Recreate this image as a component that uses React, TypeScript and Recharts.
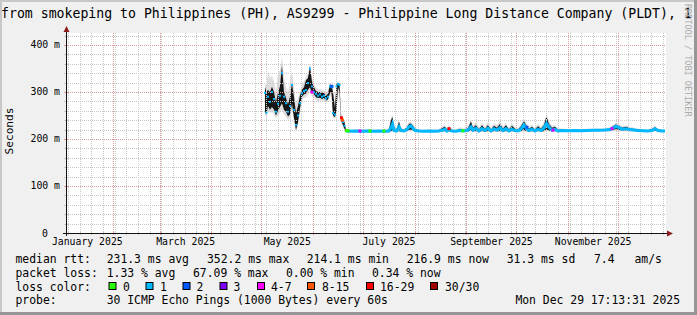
import React from 'react';
import {
  ComposedChart,
  Area,
  Line,
  Scatter,
  XAxis,
  YAxis,
  ReferenceLine,
} from 'recharts';

// x values are days since 2025-01-01, graph covers the last 360 days
const startDay = 2.72;
const endDay = 362.72;

// busy period (May - June): smoke band + median
const burstDays = [
  122.1, 123.0, 123.9, 125.1, 126.3, 127.5, 128.7, 129.9, 131.1, 132.3, 133.5, 134.7,
  135.9, 137.1, 138.3, 139.5, 140.7, 141.9, 143.1, 144.3, 145.5, 146.7, 147.9, 149.1,
  150.3, 151.5, 152.7, 153.9, 155.1, 156.3, 157.5, 158.7, 159.9, 161.1, 162.0, 162.9,
  164.1, 165.0, 165.9, 166.8, 167.7, 168.9, 169.8,
];
const burstMedian = [
  298, 256, 290, 279, 300, 285, 258, 275, 292, 340, 290, 276,
  258, 270, 315, 262, 230, 250, 276, 297, 302, 304, 319, 350,
  312, 300, 296, 292, 295, 290, 292, 286, 290, 312, 310, 255,
  252, 312, 317, 315, 245, 236, 228,
];
const burstDarkLow = [
  258, 252, 270, 262, 268, 262, 250, 260, 268, 276, 262, 258,
  248, 252, 275, 245, 219, 235, 265, 290, 295, 296, 305, 310,
  298, 295, 289, 287, 288, 285, 287, 282, 284, 298, 300, 250,
  246, 260, 310, 300, 240, 229, 222,
];
const burstDarkHigh = [
  310, 300, 304, 300, 311, 300, 278, 298, 312, 357, 300, 288,
  274, 290, 318, 290, 255, 270, 292, 305, 310, 325, 330, 354,
  322, 310, 302, 300, 300, 298, 298, 292, 296, 316, 315, 300,
  266, 317, 319, 318, 250, 242, 236,
];
const burstLightLow = [
  252, 246, 262, 255, 258, 252, 244, 250, 256, 262, 252, 248,
  240, 244, 262, 236, 215, 228, 255, 282, 288, 288, 295, 300,
  290, 288, 283, 280, 282, 280, 282, 278, 279, 292, 294, 245,
  242, 255, 305, 295, 235, 225, 219,
];
const burstLightHigh = [
  318, 312, 346, 330, 335, 322, 300, 340, 345, 375, 330, 310,
  300, 318, 345, 310, 275, 285, 300, 315, 322, 332, 338, 362,
  330, 318, 308, 306, 306, 304, 303, 298, 302, 320, 318, 306,
  272, 320, 322, 320, 256, 246, 240,
];

// settled period (late June - December)
const calmDays = [
  170.7, 173.1, 176.7, 180.3, 183.9, 187.5, 191.1, 194.7, 196.5, 197.7, 198.6, 199.5,
  201.0, 202.5, 203.7, 205.5, 207.3, 208.5, 209.7, 210.9, 212.1, 214.5, 217.5, 220.5,
  223.5, 226.5, 228.9, 230.1, 231.3, 232.5, 234.3, 236.7, 239.1, 241.5, 243.9, 245.7,
  246.9, 248.7, 250.5, 252.3, 254.1, 255.9, 257.7, 259.5, 261.3, 263.1, 264.9, 266.7,
  268.5, 270.3, 272.1, 273.9, 275.7, 277.5, 279.0, 280.5, 282.3, 284.1, 285.9, 287.7,
  289.5, 291.0, 292.5, 294.3, 296.1, 297.9, 300.9, 304.5, 308.1, 311.7, 315.3, 318.9,
  322.5, 326.1, 329.1, 330.9, 332.7, 334.5, 336.3, 338.7, 341.1, 343.5, 345.9, 348.9,
  351.9, 354.3, 356.1, 357.9, 360.3, 362.1,
];
const calmMedian = [
  217.5, 216.5, 217, 216.5, 217, 216.5, 217, 216.5, 217, 224, 232, 218,
  217, 226, 218, 217, 220, 226, 228, 223, 218, 217, 216.5, 217,
  216.5, 217, 219, 221, 217, 220, 217, 216.5, 218, 217, 219, 226,
  219, 223, 217, 222, 218, 223, 217, 222, 219, 224, 218, 222,
  217, 221, 218, 217, 221, 230, 222, 218, 221, 217, 221, 218,
  223, 233, 225, 219, 221, 217, 218, 217.5, 218, 217.5, 218, 218.5,
  218.5, 219, 220, 223, 227, 224, 221, 222, 220, 219, 218, 217.5,
  217, 218, 222, 218, 217, 216.9,
];
const calmDarkLow = [
  216, 215.5, 216, 215.5, 216, 215.5, 216, 215.5, 216, 217, 218, 216,
  216, 217, 216, 216, 217, 219, 220, 218, 216, 216, 215.5, 216,
  215.5, 216, 216.5, 217, 216, 217, 216, 215.5, 216, 216, 216.5, 218,
  216.5, 217, 216, 217, 216, 217, 216, 217, 216.5, 217, 216, 217,
  216, 217, 216, 216, 217, 219, 217, 216, 217, 216, 217, 216,
  217, 220, 218, 216.5, 217, 216, 216.5, 216.5, 216.5, 216.5, 216.5, 217,
  217, 217.5, 218, 219, 221, 219, 218, 218.5, 218, 217, 216.5, 216.5,
  216, 216.5, 217.5, 216.5, 216, 216,
];
const calmDarkHigh = [
  219, 218, 218.5, 218, 218.5, 218, 218.5, 218, 220, 240, 247, 225,
  219, 237, 221, 219, 225, 232, 233, 228, 221, 219, 218, 218.5,
  218, 219, 224, 226, 220, 225, 219, 218, 221, 219, 223, 237,
  224, 230, 220, 229, 221, 230, 220, 228, 224, 232, 222, 229,
  220, 228, 222, 220, 227, 238, 228, 222, 226, 220, 227, 222,
  230, 248, 232, 224, 226, 220, 220, 219, 219.5, 219, 219.5, 220,
  220, 220.5, 222, 227, 231, 228, 224, 226, 223, 221, 220, 219,
  218.5, 221, 225, 220, 218.5, 218,
];
const calmLightLow = [
  215, 214.5, 215, 214.5, 215, 214.5, 215, 214.5, 215, 215, 216, 215,
  215, 215, 215, 215, 215, 216, 217, 216, 215, 215, 214.5, 215,
  214.5, 215, 215, 215, 215, 215, 215, 214.5, 215, 215, 215, 216,
  215, 215, 215, 215, 215, 215, 215, 215, 215, 215, 215, 215,
  215, 215, 215, 215, 215, 216, 215, 215, 215, 215, 215, 215,
  215, 217, 216, 215, 215, 215, 215, 215, 215, 215, 215, 215.5,
  215.5, 216, 216, 217, 218, 217, 216, 216.5, 216, 215.5, 215, 215,
  215, 215, 216, 215, 215, 215,
];
const calmLightHigh = [
  222, 219.5, 220, 220, 220, 219.5, 220, 219.5, 224, 245, 252, 230,
  222, 240, 224, 221, 228, 236, 236, 232, 224, 220, 219.5, 220,
  220, 221, 228, 230, 223, 228, 222, 220, 225, 222, 228, 242,
  228, 236, 225, 234, 226, 236, 224, 233, 230, 238, 227, 234,
  224, 233, 226, 223, 232, 243, 234, 226, 230, 223, 232, 226,
  236, 253, 238, 228, 230, 223, 222, 221, 221.5, 221, 222, 222,
  222.5, 223, 225, 230, 234, 231, 227, 229, 226, 224, 222, 221,
  220, 224, 228, 222, 220, 219.5,
];

// single samples drawn in another loss colour
const lossDays = [150.3, 162.3, 168.0, 168.6, 171.0, 171.9, 179.1, 185.1, 193.5, 232.5, 240.9, 279.3, 294.9, 330.3];
const lossMs = [300, 312, 245, 240, 217.5, 217.5, 217, 217, 217, 222, 217.5, 225, 219, 222];
const lossColors = [
  '#dd00ff', '#0059ff', '#ff0000', '#ff5500', '#26ff00', '#26ff00', '#dd00ff',
  '#26ff00', '#26ff00', '#ff0000', '#26ff00', '#0059ff', '#dd00ff', '#dd00ff',
];

// axes and grid
const msTicks = [0, 100, 200, 300, 400];
const msMinorGrid = [20, 40, 60, 80, 120, 140, 160, 180, 220, 240, 260, 280, 320, 340, 360, 380, 420];
const msMajorGrid = [100, 200, 300, 400];
const monthLabelDays = [15.5, 74.5, 135.5, 196.5, 258, 319];
const monthLabels = ['January 2025', 'March 2025', 'May 2025', 'July 2025', 'September 2025', 'November 2025'];
const monthStartDays = [31, 59, 90, 120, 151, 181, 212, 243, 273, 304, 334];
const weekDays = [
  4, 11, 18, 25, 32, 39, 46, 53, 60, 67, 74, 81, 88, 95, 102, 109, 116, 123, 130, 137,
  144, 151, 158, 165, 172, 179, 186, 193, 200, 207, 214, 221, 228, 235, 242, 249, 256,
  263, 270, 277, 284, 291, 298, 305, 312, 319, 326, 333, 340, 347, 354, 361,
];

const lossLegend = [
  { label: '0', color: '#26ff00', box: 108.5, text: 123 },
  { label: '1', color: '#00b8ff', box: 145.5, text: 160 },
  { label: '2', color: '#0059ff', box: 182.5, text: 196.5 },
  { label: '3', color: '#7e00ff', box: 219.5, text: 233.5 },
  { label: '4-7', color: '#ff00ff', box: 257, text: 271 },
  { label: '8-15', color: '#ff5500', box: 307, text: 322 },
  { label: '16-29', color: '#ff0000', box: 366, text: 380 },
  { label: '30/30', color: '#a10000', box: 430, text: 445 },
];

const burstRows = burstDays.map((day, i) => ({
  day,
  dark: [burstDarkLow[i], burstDarkHigh[i]],
  light: [burstLightLow[i], burstLightHigh[i]],
  dot: burstMedian[i],
}));
const calmRows = calmDays.map((day, i) => ({
  day,
  dark: [calmDarkLow[i], calmDarkHigh[i]],
  light: [calmLightLow[i], calmLightHigh[i]],
  median: calmMedian[i],
}));
const rows = [...burstRows, ...calmRows];
const lossRows = lossDays.map((day, i) => ({ day, ms: lossMs[i], color: lossColors[i] }));

const mono = "'DejaVu Sans Mono', monospace";
const minorColor = '#c8c8c8';
const majorColor = '#dc9c9c';

const crisp = (v: number) => Math.round(v) + 0.5;

const vGrid = (color: string) => (p: any) => {
  const x = crisp(p.x1);
  const top = Math.min(p.y1, p.y2);
  const bottom = Math.max(p.y1, p.y2);
  return (
    <g>
      <line x1={x} x2={x} y1={top} y2={bottom} stroke={color} strokeDasharray="1 1" />
      <line x1={x} x2={x} y1={bottom - 2} y2={bottom + 2} stroke={color} />
    </g>
  );
};

const hGrid = (color: string) => (p: any) => {
  const y = crisp(p.y1);
  const left = Math.min(p.x1, p.x2);
  const right = Math.max(p.x1, p.x2);
  return (
    <g>
      <line x1={left} x2={right} y1={y} y2={y} stroke={color} strokeDasharray="1 1" />
      <line x1={left - 2} x2={left + 2} y1={y} y2={y} stroke={color} />
    </g>
  );
};

const xAxisLine = (p: any) => {
  const y = crisp(p.y1);
  const left = Math.min(p.x1, p.x2);
  const right = Math.max(p.x1, p.x2);
  return (
    <g>
      <line x1={left - 3} x2={right + 2} y1={y} y2={y} stroke="#111" />
      <polygon points={`${right + 1},${y - 3} ${right + 7},${y} ${right + 1},${y + 3}`} fill="#8c1d1d" />
    </g>
  );
};

const yAxisLine = (p: any) => {
  const x = crisp(p.x1);
  const top = Math.min(p.y1, p.y2);
  const bottom = Math.max(p.y1, p.y2);
  return (
    <g>
      <line x1={x} x2={x} y1={top - 2} y2={bottom + 3} stroke="#111" />
      <polygon points={`${x - 3},${top - 1} ${x},${top - 7} ${x + 3},${top - 1}`} fill="#8c1d1d" />
    </g>
  );
};

const medianDot = (p: any) => (
  <rect x={p.cx - 1} y={p.cy - 1} width={2} height={2} fill="#00b8ff" />
);
const lossDot = (p: any) => (
  <rect x={p.cx - 1.5} y={p.cy - 1.5} width={3} height={3} fill={p.payload.color} />
);

const MonthTick = (props: any) => {
  const idx = monthLabelDays.indexOf(props.payload.value);
  return (
    <text x={props.x} y={245} textAnchor="middle" fontFamily={mono} fontSize={9.8} fill="#000">
      {monthLabels[idx]}
    </text>
  );
};

const MsTick = (props: any) => {
  const v = props.payload.value;
  return (
    <text x={v === 0 ? 48 : 60} y={props.y + 3.5} textAnchor="end" fontFamily={mono} fontSize={9.8} fill="#000">
      {v === 0 ? '0' : `${v} m`}
    </text>
  );
};

function Overlay() {
  const rowsY = [262.5, 276.5, 290.5, 304];
  const t = { fontFamily: mono, fontSize: 11.4, fill: '#000' } as const;
  return (
    <svg width={697} height={315} style={{ position: 'absolute', left: 0, top: 0, pointerEvents: 'none' }}>
      <rect x={0} y={0} width={697} height={2} fill="#c8c8c8" />
      <rect x={0} y={0} width={2} height={315} fill="#c8c8c8" />
      <rect x={694} y={0} width={3} height={315} fill="#969696" />
      <rect x={0} y={312} width={697} height={3} fill="#969696" />

      <text x={1} y={18.3} fontFamily={mono} fontSize={13.2} fill="#000">
        from smokeping to Philippines (PH), AS9299 - Philippine Long Distance Company (PLDT), 1
      </text>
      <text transform="translate(685,4) rotate(90)" fontFamily={mono} fontSize={8.5} fill="#ababab">
        RRDTOOL / TOBI OETIKER
      </text>
      <text transform="translate(13,131) rotate(-90)" textAnchor="middle" fontFamily={mono} fontSize={11.2} fill="#000">
        Seconds
      </text>

      <text x={15.5} y={rowsY[0]} {...t}>median rtt:</text>
      <text x={106.7} y={rowsY[0]} {...t}>231.3 ms avg</text>
      <text x={207} y={rowsY[0]} {...t}>352.2 ms max</text>
      <text x={306.7} y={rowsY[0]} {...t}>214.1 ms min</text>
      <text x={406.7} y={rowsY[0]} {...t}>216.9 ms now</text>
      <text x={506.7} y={rowsY[0]} {...t}>31.3 ms sd</text>
      <text x={594} y={rowsY[0]} {...t}>7.4</text>
      <text x={634.5} y={rowsY[0]} {...t}>am/s</text>

      <text x={15.5} y={rowsY[1]} {...t}>packet loss:</text>
      <text x={106.7} y={rowsY[1]} {...t}>1.33 % avg</text>
      <text x={193} y={rowsY[1]} {...t}>67.09 % max</text>
      <text x={286} y={rowsY[1]} {...t}>0.00 % min</text>
      <text x={372} y={rowsY[1]} {...t}>0.34 % now</text>

      <text x={15.5} y={rowsY[2]} {...t}>loss color:</text>
      {lossLegend.map((item) => (
        <g key={item.label}>
          <rect x={item.box + 0.5} y={282.5} width={7} height={7} fill={item.color} stroke="#000" />
          <text x={item.text} y={rowsY[2]} {...t}>{item.label}</text>
        </g>
      ))}

      <text x={15.5} y={rowsY[3]} {...t}>probe:</text>
      <text x={106.7} y={rowsY[3]} {...t}>30 ICMP Echo Pings (1000 Bytes) every 60s</text>
      <text x={680} y={rowsY[3]} textAnchor="end" {...t}>Mon Dec 29 17:13:31 2025</text>
    </svg>
  );
}

export default function App() {
  return (
    <div style={{ position: 'absolute', left: 0, top: 0, width: 697, height: 315, background: '#f0f0f0', overflow: 'hidden' }}>
      <div style={{ position: 'absolute', left: 66, top: 33, width: 600, height: 200, background: '#fff' }} />
      <div style={{ position: 'absolute', left: 0, top: 0 }}>
        <ComposedChart
          width={697}
          height={315}
          data={rows}
          margin={{ top: 33, right: 31, bottom: 0, left: 0 }}
        >
          <XAxis
            dataKey="day"
            type="number"
            domain={[startDay, endDay]}
            allowDataOverflow
            ticks={monthLabelDays}
            interval={0}
            tick={<MonthTick />}
            tickLine={false}
            axisLine={false}
            height={82}
          />
          <YAxis
            type="number"
            domain={[0, 425.5]}
            allowDataOverflow
            ticks={msTicks}
            interval={0}
            tick={<MsTick />}
            tickLine={false}
            axisLine={false}
            width={66}
          />
          {weekDays.map((d) => (
            <ReferenceLine key={`w${d}`} x={d} shape={vGrid(minorColor)} />
          ))}
          {msMinorGrid.map((v) => (
            <ReferenceLine key={`m${v}`} y={v} shape={hGrid(minorColor)} />
          ))}
          {monthStartDays.map((d) => (
            <ReferenceLine key={`M${d}`} x={d} shape={vGrid(majorColor)} />
          ))}
          {msMajorGrid.map((v) => (
            <ReferenceLine key={`H${v}`} y={v} shape={hGrid(majorColor)} />
          ))}
          <Area
            dataKey="light"
            type="linear"
            fill="#cfcfcf"
            fillOpacity={0.7}
            stroke="none"
            isAnimationActive={false}
          />
          <Area
            dataKey="dark"
            type="linear"
            fill="#161616"
            fillOpacity={1}
            stroke="none"
            isAnimationActive={false}
          />
          <Line
            dataKey="median"
            type="linear"
            stroke="#00b8ff"
            strokeWidth={3}
            dot={false}
            isAnimationActive={false}
          />
          <Scatter data={burstRows} dataKey="dot" shape={medianDot} isAnimationActive={false} />
          <Scatter data={lossRows} dataKey="ms" shape={lossDot} isAnimationActive={false} />
          <ReferenceLine y={0} shape={xAxisLine} />
          <ReferenceLine x={startDay} shape={yAxisLine} />
        </ComposedChart>
      </div>
      <Overlay />
    </div>
  );
}
